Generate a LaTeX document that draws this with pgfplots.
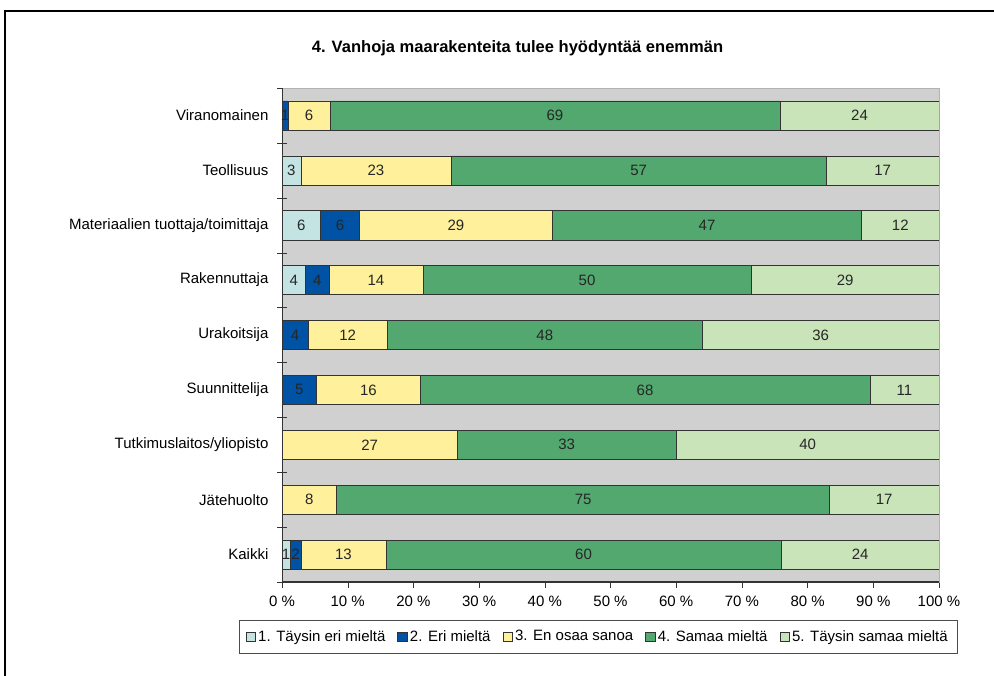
\documentclass[border=0pt]{standalone}
\usepackage{fontspec}
\setmainfont{Liberation Sans}
\usepackage{pgfplots}
\pgfplotsset{compat=1.18}
\definecolor{c1}{RGB}{196,228,228}
\definecolor{c2}{RGB}{0,82,164}
\definecolor{c3}{RGB}{255,240,155}
\definecolor{c4}{RGB}{82,168,110}
\definecolor{c5}{RGB}{202,228,186}
\definecolor{bg}{RGB}{208,208,208}
\begin{document}
\fontsize{11.25}{13.5}\selectfont
\begin{tikzpicture}[x=0.75pt,y=0.75pt]
\useasboundingbox (0,0) rectangle (994,675);
\draw[line width=1.1pt] (5,-20) -- (5,664) -- (1010,664);
\node[font=\bfseries\fontsize{12.4}{14}\selectfont, anchor=base] at (517.5,622) {4. Vanhoja maarakenteita tulee hyödyntää enemmän};
\begin{axis}[
  at={(211.5pt,69.75pt)}, anchor=south west,
  width=492.75pt, height=370.5pt, scale only axis,
  xbar stacked, bar width=0.53,
  xmin=0, xmax=100, ymin=-0.5, ymax=8.5,
  axis background/.style={fill=bg},
  axis line style={draw=black!30},
  xtick={0,10,...,100},
  xticklabels={0 \%,10 \%,20 \%,30 \%,40 \%,50 \%,60 \%,70 \%,80 \%,90 \%,100 \%},
  ytick={0,...,8},
  yticklabels={Kaikki,Jätehuolto,Tutkimuslaitos/yliopisto,Suunnittelija,Urakoitsija,Rakennuttaja,Materiaalien tuottaja/toimittaja,Teollisuus,Viranomainen},
  minor ytick={-0.5,0.5,...,8.5},
  xtick pos=bottom, ytick pos=left,
  tick align=center,
  major tick length=4.5pt, minor tick length=7.5pt,
  xtick style={draw=black!80, yshift=-2.25pt},
  ytick style={draw=none},
  minor y tick style={draw=black!80},
  yticklabel style={xshift=-4pt, font=\fontsize{11.25}{13.5}\selectfont},
  xticklabel style={yshift=-4.5pt, font=\fontsize{11.25}{13.5}\selectfont},
  point meta=explicit symbolic,
  nodes near coords,
  every node near coord/.append style={font=\fontsize{11.25}{13.5}\selectfont, text=black!85},
  legend columns=5,
  legend style={at={(0.481,-0.111)}, anchor=center, draw=black!70, font=\fontsize{11.25}{13.5}\selectfont,
    inner ysep=5.5pt, inner xsep=5pt,
    /tikz/every even column/.append style={column sep=7pt}},
  legend image code/.code={\draw[#1] (0pt,-3.5pt) rectangle (7pt,3.5pt);},
]
\addplot[fill=c1, draw=black!80] coordinates {
 (1.2,0) [1] (0,1) [{}] (0,2) [{}] (0,3) [{}] (0,4) [{}] (3.57,5) [4] (5.88,6) [6] (2.86,7) [3] (0,8) [{}]};
\addplot[fill=c2, draw=black!80] coordinates {
 (1.7,0) [2] (0,1) [{}] (0,2) [{}] (5.26,3) [5] (4,4) [4] (3.57,5) [4] (5.88,6) [6] (0,7) [{}] (0.9,8) [1]};
\addplot[fill=c3, draw=black!80] coordinates {
 (12.9,0) [13] (8.33,1) [8] (26.67,2) [27] (15.79,3) [16] (12,4) [12] (14.29,5) [14] (29.41,6) [29] (22.86,7) [23] (6.4,8) [6]};
\addplot[fill=c4, draw=black!80] coordinates {
 (60.2,0) [60] (75,1) [75] (33.33,2) [33] (68.42,3) [68] (48,4) [48] (50,5) [50] (47.06,6) [47] (57.14,7) [57] (68.5,8) [69]};
\addplot[fill=c5, draw=black!80] coordinates {
 (24,0) [24] (16.67,1) [17] (40,2) [40] (10.53,3) [11] (36,4) [36] (28.57,5) [29] (11.76,6) [12] (17.14,7) [17] (24.2,8) [24]};
\legend{1. Täysin eri mieltä,2. Eri mieltä,3. En osaa sanoa,4. Samaa mieltä,5. Täysin samaa mieltä}
\draw[black!80, line width=0.8pt] (rel axis cs:0,0) -- (rel axis cs:0,1);
\draw[black!80, line width=0.8pt] (rel axis cs:0,0) -- (rel axis cs:1,0);
\end{axis}
\end{tikzpicture}
\end{document}
